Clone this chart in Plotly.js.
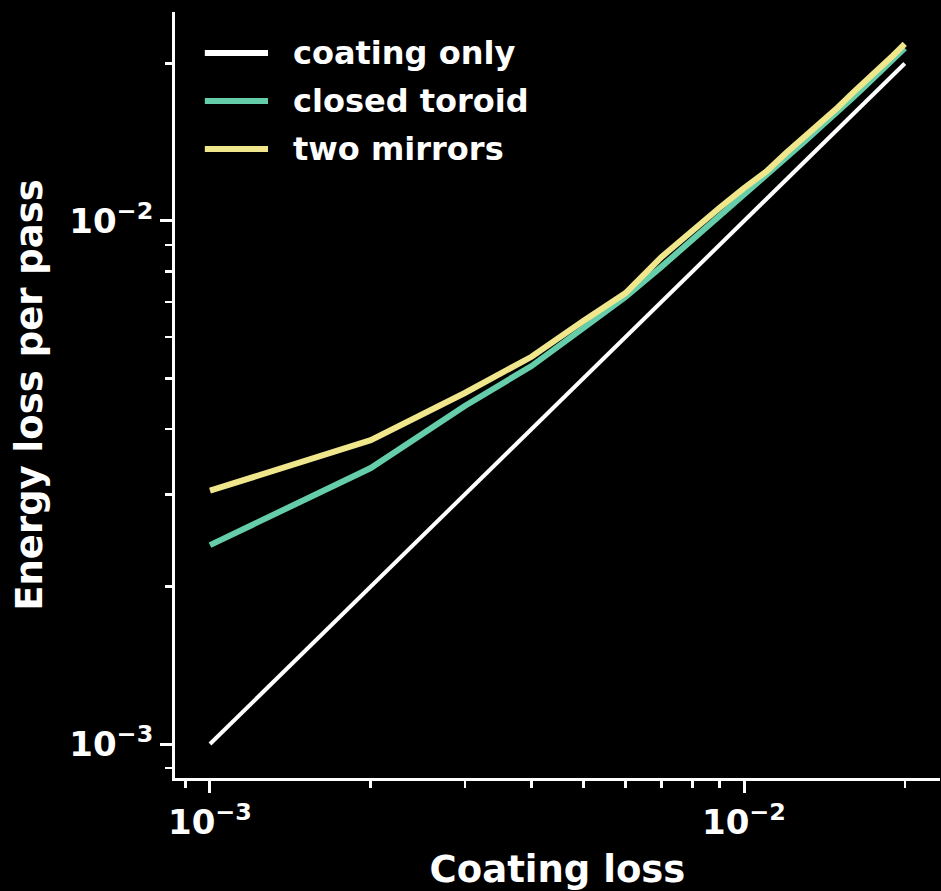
<!DOCTYPE html>
<html>
<head>
<meta charset="utf-8">
<script src="https://cdn.plot.ly/plotly-3.0.1.min.js"></script>
<style>
  html, body { margin: 0; padding: 0; background: #000; }
  #chart { width: 941px; height: 891px; }
</style>
</head>
<body>
<div id="chart"></div>
<script>
// ---- data ----
const coatingLoss = [0.001, 0.002, 0.003, 0.004, 0.005, 0.006, 0.007, 0.008, 0.009, 0.010,
                     0.011, 0.012, 0.013, 0.014, 0.015, 0.016, 0.017, 0.018, 0.019, 0.020];
const coatingOnly = [0.001, 0.002, 0.003, 0.004, 0.005, 0.006, 0.007, 0.008, 0.009, 0.010,
                     0.011, 0.012, 0.013, 0.014, 0.015, 0.016, 0.017, 0.018, 0.019, 0.020];
const closedToroid = [0.00240, 0.00337, 0.00443, 0.00528, 0.00624, 0.00716, 0.00817, 0.00920, 0.01022, 0.01117,
                      0.01216, 0.01320, 0.01421, 0.01522, 0.01617, 0.01722, 0.01826, 0.01930, 0.02033, 0.02140];
const twoMirrors = [0.00305, 0.00381, 0.00469, 0.00550, 0.00644, 0.00728, 0.00853, 0.00960, 0.01060, 0.01156,
                    0.01243, 0.01350, 0.01450, 0.01547, 0.01650, 0.01760, 0.01860, 0.01970, 0.02070, 0.02180];

const seriesNames = ['coating only', 'closed toroid', 'two mirrors'];
const seriesColors = ['#ffffff', '#66cdaa', '#f0e68c'];
const seriesWidths = [4, 6, 6];
const seriesData = [coatingOnly, closedToroid, twoMirrors];

const majorTickVals = [0.001, 0.01];
const majorTickText = ['10<sup>−3</sup>', '10<sup>−2</sup>'];
const minorTickVals = [0.0009, 0.002, 0.003, 0.004, 0.005, 0.006, 0.007, 0.008, 0.009, 0.02];

const xTitle = 'Coating loss';
const yTitle = 'Energy loss per pass';

// ---- build ----
const FONT = 'DejaVu Sans';
const traces = seriesData.map((ys, i) => ({
  x: coatingLoss,
  y: ys,
  type: 'scatter',
  mode: 'lines',
  name: seriesNames[i],
  line: { color: seriesColors[i], width: seriesWidths[i] },
  hoverinfo: 'skip'
}));

function axis(range, titleText, standoff) {
  return {
    type: 'log',
    range: range,
    showgrid: false,
    zeroline: false,
    showline: true,
    linecolor: '#ffffff',
    linewidth: 3,
    mirror: false,
    ticks: 'outside',
    ticklen: 12,
    tickwidth: 3,
    tickcolor: '#ffffff',
    tickmode: 'array',
    tickvals: majorTickVals,
    ticktext: majorTickText,
    tickfont: { family: FONT, size: 34, weight: 'bold', color: '#ffffff' },
    minor: {
      tickmode: 'array',
      tickvals: minorTickVals,
      ticks: 'outside',
      ticklen: 7,
      tickwidth: 2.5,
      tickcolor: '#ffffff',
      showgrid: false
    },
    title: {
      text: titleText,
      font: { family: FONT, size: 37, weight: 'bold', color: '#ffffff' },
      standoff: standoff
    },
    automargin: false
  };
}

// custom legend (long line samples like the reference)
const legendX0 = 0.039, legendX1 = 0.1216, legendTextX = 0.1516;
const legendY = [0.9465, 0.8838, 0.8211];
const shapes = seriesNames.map((n, i) => ({
  type: 'line', xref: 'paper', yref: 'paper',
  x0: legendX0, x1: legendX1, y0: legendY[i], y1: legendY[i],
  line: { color: seriesColors[i], width: 6 }
}));
const annotations = seriesNames.map((n, i) => ({
  xref: 'paper', yref: 'paper', x: legendTextX, y: legendY[i],
  xanchor: 'left', yanchor: 'middle', showarrow: false,
  text: n,
  font: { family: FONT, size: 32, weight: 'bold', color: '#ffffff' }
}));

const layout = {
  width: 941,
  height: 891,
  margin: { l: 175, r: 1, t: 12, b: 113, pad: 0 },
  paper_bgcolor: '#000000',
  plot_bgcolor: '#000000',
  showlegend: false,
  hovermode: false,
  xaxis: axis([-3.0655, -1.633], xTitle, 16),
  yaxis: axis([-3.065, -1.6004], yTitle, 16),
  shapes: shapes,
  annotations: annotations
};

Plotly.newPlot('chart', traces, layout, { staticPlot: true, displayModeBar: false });
</script>
</body>
</html>
